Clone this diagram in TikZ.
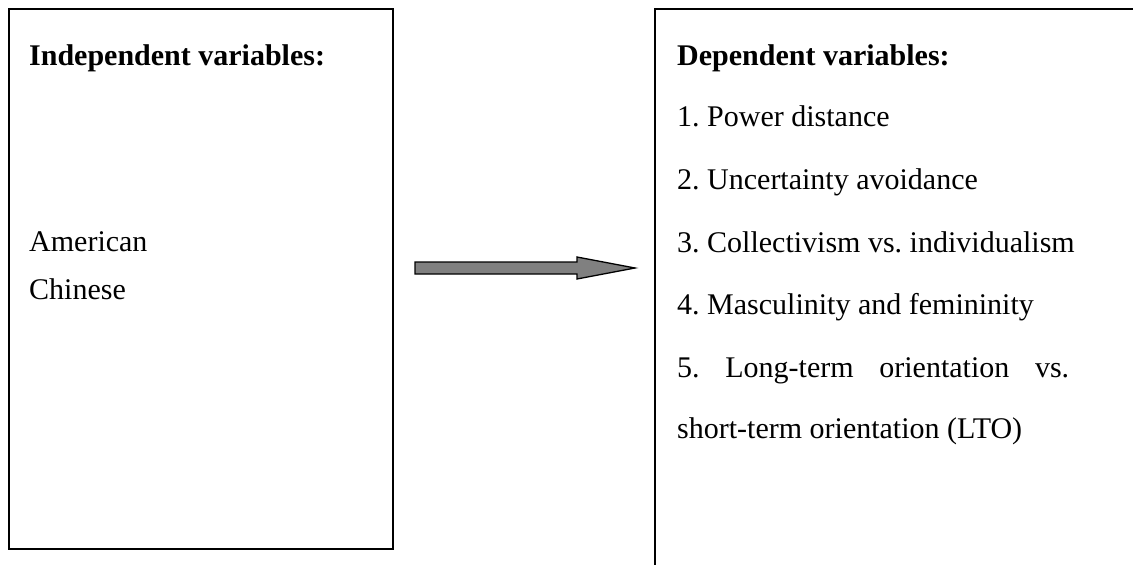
\documentclass[tikz,border=0pt]{standalone}
\usepackage{fontspec}
\setmainfont{Liberation Serif}
\usetikzlibrary{calc}
\frenchspacing
\begin{document}
\begin{tikzpicture}[x=1pt,y=-1pt,
  box/.style={draw=black,line width=2pt,inner sep=0pt,fill=none},
  txt/.style={anchor=base west,inner sep=0pt,font=\fontsize{30}{34}\selectfont},
  headtxt/.style={txt,font=\fontsize{30}{34}\selectfont\bfseries},
  blockarrow/.style={draw=black,line width=1.3pt,fill=black!50,line join=miter}]
\useasboundingbox (0,0) rectangle (1133,565);
\clip (0,0) rectangle (1133,565);
% boxes
\node[box,minimum width=384pt,minimum height=540pt,anchor=north west] (indep) at (8,8) {};
\node[box,minimum width=700pt,minimum height=700pt,anchor=north west] (dep) at (654,8) {};
% left texts
\node[headtxt] (ih) at (29,65) {Independent variables:};
\node[txt] (am) at (29,251) {American};
\node[txt] (ch) at (29,299) {Chinese};
% right texts
\node[headtxt] (dh) at (677,65) {Dependent variables:};
\node[txt] (d1) at (677,126) {1. Power distance};
\node[txt] (d2) at (677,189) {2. Uncertainty avoidance};
\node[txt] (d3) at (677,252) {3. Collectivism vs. individualism};
\node[txt] (d4) at (677,314) {4. Masculinity and femininity};
\node[txt] (d5) at (677,377) {\makebox[392pt][s]{5. Long-term orientation vs.}};
\node[txt] (d6) at (677,438) {short-term orientation (LTO)};
% block arrow
\coordinate (as) at (415,268);
\coordinate (at) at (635,268);
\draw[blockarrow] ($(as)+(0,-6)$) -- ++(162,0) -- ++(0,-5) -- (at) -- ($(as)+(162,11)$) -- ++(0,-5) -- ($(as)+(0,6)$) -- cycle;
\end{tikzpicture}
\end{document}
